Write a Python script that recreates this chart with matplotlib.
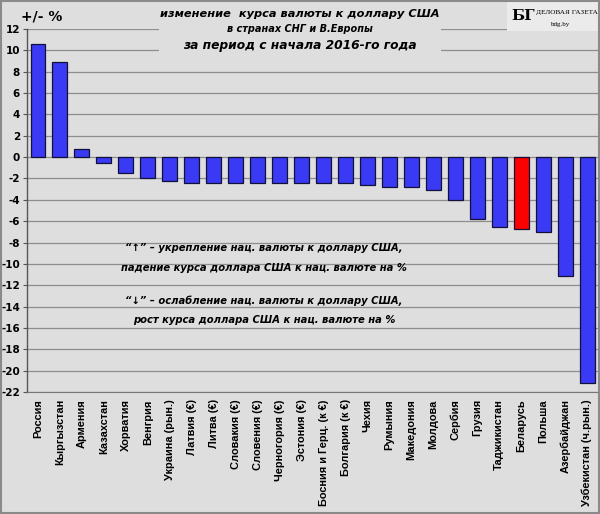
import matplotlib
matplotlib.use("Agg")
import matplotlib.pyplot as plt
from matplotlib.patches import Rectangle

countries = ["Россия", "Кыргызстан", "Армения", "Казахстан", "Хорватия", "Венгрия",
             "Украина (рын.)", "Латвия (€)", "Литва (€)", "Словакия (€)", "Словения (€)",
             "Черногория (€)", "Эстония (€)", "Босния и Герц. (к €)", "Болгария (к €)",
             "Чехия", "Румыния", "Македония", "Молдова", "Сербия", "Грузия", "Таджикистан",
             "Беларусь", "Польша", "Азербайджан", "Узбекистан (ч.рын.)"]
changes = [10.6, 8.9, 0.76, -0.53, -1.45, -2.0, -2.2, -2.43, -2.43, -2.43, -2.43,
           -2.43, -2.43, -2.43, -2.43, -2.6, -2.84, -2.84, -3.1, -4.03, -5.78, -6.56,
           -6.72, -7.0, -11.09, -21.1]
highlight = "Беларусь"
yticks = list(range(-22, 13, 2))

BG = "#dedede"
plt.rcParams['font.family'] = ['DejaVu Sans']

fig = plt.figure(figsize=(6.0, 5.14), dpi=100, facecolor=BG)
ax = fig.add_axes([0.045, 0.237, 0.952, 0.707])
ax.set_facecolor(BG)

colors = ["#ff0000" if c == highlight else "#3a3af5" for c in countries]
x = list(range(len(countries)))
ax.bar(x, changes, width=0.68, color=colors, edgecolor="#10103a", linewidth=0.9, zorder=3)

ax.set_xlim(-0.5, len(countries) - 0.5)
ax.set_ylim(-22, 12)
ax.set_yticks(yticks)
ax.set_yticklabels([str(t) for t in yticks], fontsize=7.5, fontweight="bold")
ax.yaxis.grid(True, color="#8e8e8e", linewidth=0.9, zorder=0)
ax.set_axisbelow(True)
ax.tick_params(axis="y", length=3, width=0.8, color="#555555", pad=2)
ax.tick_params(axis="x", length=0, pad=5)
ax.set_xticks(x)
ax.set_xticklabels(countries, rotation=90, fontsize=7.9, fontweight="bold",
                   family=["Liberation Sans", "DejaVu Sans"])
for s in ["top", "right"]:
    ax.spines[s].set_visible(False)
ax.spines["left"].set_color("#555555")
ax.spines["bottom"].set_color("#777777")
ax.spines["left"].set_linewidth(1.0)

# y label
fig.text(0.035, 0.968, "+/- %", fontsize=10, fontweight="bold", ha="left", va="center")

# title block (background masks gridlines)
fig.patches.append(Rectangle((0.265, 0.895), 0.47, 0.105, transform=fig.transFigure,
                             facecolor=BG, edgecolor="none", zorder=5))
fig.text(0.5, 0.972, "изменение  курса валюты к доллару США", fontsize=8.2,
         fontweight="bold", fontstyle="italic", ha="center", va="center", zorder=6)
fig.text(0.5, 0.944, "в странах СНГ и В.Европы", fontsize=7.0,
         fontweight="bold", fontstyle="italic", ha="center", va="center", zorder=6)
fig.text(0.5, 0.911, "за период с начала 2016-го года", fontsize=8.8,
         fontweight="bold", fontstyle="italic", ha="center", va="center", zorder=6)

# logo
fig.patches.append(Rectangle((0.845, 0.94), 0.152, 0.056, transform=fig.transFigure,
                             facecolor="#ebebeb", edgecolor="none", zorder=5))
fig.text(0.852, 0.968, "БГ", fontsize=11, fontweight="bold", family="DejaVu Serif",
         ha="left", va="center", zorder=6)
fig.text(0.893, 0.975, "ДЕЛОВАЯ ГАЗЕТА", fontsize=5.2, family="Liberation Serif",
         ha="left", va="center", zorder=6)
fig.text(0.935, 0.952, "bdg.by", fontsize=5, family="Liberation Serif",
         ha="center", va="center", zorder=6)

# annotation
note_kw = dict(fontsize=7.2, fontweight="bold", fontstyle="italic", ha="center",
               va="center", zorder=6, family=["Liberation Sans Narrow", "DejaVu Sans"])
fig.text(0.44, 0.517, "“↑” – укрепление нац. валюты к доллару США,", **note_kw)
fig.text(0.44, 0.479, "падение курса доллара США к нац. валюте на %", **note_kw)
fig.text(0.44, 0.414, "“↓” – ослабление нац. валюты к доллару США,", **note_kw)
fig.text(0.44, 0.378, "рост курса доллара США к нац. валюте на %", **note_kw)

# figure border
fig.patches.append(Rectangle((0.001, 0.001), 0.998, 0.998, transform=fig.transFigure,
                             facecolor="none", edgecolor="#8a8a8a", linewidth=1.5, zorder=10))

fig.savefig("out.png", dpi=100, facecolor=BG)
